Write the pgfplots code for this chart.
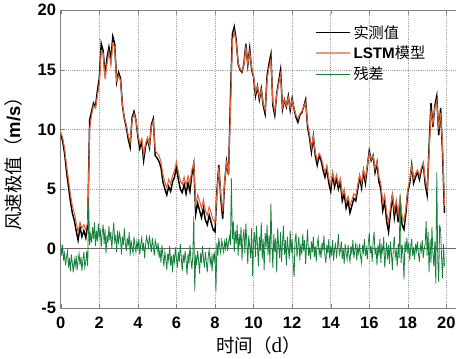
\documentclass[border=0pt]{standalone}
\usepackage{pgfplots}
\usepackage{pgfplotstable}
\pgfplotsset{compat=1.18}
\usepackage{fontspec}
\setmainfont{Liberation Serif}
\setsansfont{Liberation Sans}
\newfontfamily\cjk{Noto Sans CJK SC}
\definecolor{lstm}{RGB}{228,100,55}
\definecolor{lstmleg}{RGB}{240,150,120}
\definecolor{res}{RGB}{20,130,60}

\pgfplotstableread{
x A L
0.0 9.6 9.8
0.1 9.0 9.3
0.2 8.0 8.4
0.3 6.5 7.0
0.4 5.2 5.8
0.5 4.0 4.6
0.6 3.0 3.6
0.7 2.4 3.0
0.8 1.5 2.2
0.9 0.7 1.4
1.0 1.8 2.2
1.1 1.0 1.7
1.2 1.5 2.0
1.3 0.9 1.6
1.4 2.0 2.2
1.5 10.8 10.0
1.6 11.5 11.2
1.7 12.2 12.0
1.8 11.9 11.8
1.9 13.2 12.8
2.0 14.3 13.8
2.1 17.2 16.6
2.2 16.6 16.4
2.3 14.5 14.2
2.4 16.0 15.5
2.5 16.9 16.5
2.6 15.8 15.4
2.7 17.8 17.2
2.8 17.2 16.9
2.9 14.0 14.1
3.0 14.8 14.5
3.1 14.3 14.1
3.2 12.0 12.1
3.3 10.9 11.0
3.4 10.2 10.4
3.5 9.2 9.5
3.6 8.5 8.9
3.7 11.0 10.8
3.8 11.5 11.3
3.9 10.8 10.8
4.0 9.4 9.6
4.1 8.4 8.8
4.2 9.0 9.2
4.3 7.4 7.9
4.4 8.6 8.8
4.5 9.2 9.3
4.6 8.5 8.7
4.7 10.4 10.2
4.8 10.9 10.7
4.9 7.8 8.2
5.0 7.6 8.0
5.1 7.3 7.8
5.2 6.8 7.3
5.3 5.6 6.2
5.4 5.0 5.6
5.5 4.5 5.1
5.6 5.2 5.8
5.7 4.8 5.4
5.8 5.6 6.1
5.9 6.0 6.5
6.0 6.9 7.3
6.1 5.8 6.4
6.2 5.0 5.7
6.3 4.7 5.4
6.4 5.4 6.0
6.5 4.6 5.3
6.6 5.5 6.1
6.7 4.8 5.5
6.8 6.2 6.6
6.9 7.1 7.2
7.0 2.9 3.7
7.1 3.8 4.5
7.2 3.2 4.0
7.3 2.6 3.4
7.4 3.4 4.1
7.5 2.4 3.2
7.6 2.0 2.8
7.7 2.8 3.5
7.8 2.2 3.0
7.9 1.6 2.4
8.0 1.4 2.2
8.1 4.8 4.6
8.2 7.0 6.8
8.3 4.2 4.6
8.4 2.5 3.1
8.5 5.5 5.6
8.6 7.3 7.2
8.7 6.2 6.4
8.8 12.5 11.5
8.9 18.0 17.4
9.0 18.6 18.2
9.1 17.5 17.3
9.2 15.5 15.6
9.3 15.0 15.1
9.4 14.8 14.9
9.5 15.5 15.4
9.6 17.2 16.9
9.7 15.4 15.5
9.8 16.8 16.5
9.9 15.0 15.2
10.0 14.4 14.5
10.1 12.8 13.1
10.2 13.6 13.6
10.3 12.5 12.7
10.4 13.4 13.3
10.5 12.0 12.2
10.6 11.3 11.6
10.7 14.5 14.2
10.8 15.5 15.2
10.9 16.3 15.9
11.0 12.0 12.3
11.1 11.2 11.5
11.2 13.0 12.9
11.3 14.0 13.8
11.4 15.0 14.6
11.5 11.7 11.9
11.6 12.5 12.5
11.7 11.9 12.0
11.8 12.8 12.7
11.9 11.6 11.8
12.0 12.6 12.5
12.1 11.7 11.8
12.2 11.0 11.2
12.3 10.6 10.9
12.4 11.2 11.3
12.5 11.4 11.5
12.6 11.9 11.9
12.7 12.5 12.3
12.8 10.2 10.5
12.9 9.3 9.6
13.0 8.1 8.5
13.1 9.4 9.4
13.2 7.8 8.1
13.3 7.0 7.4
13.4 7.8 8.0
13.5 7.4 7.7
13.6 6.6 7.0
13.7 6.0 6.4
13.8 6.7 7.0
13.9 5.5 5.9
14.0 4.8 5.3
14.1 6.2 6.4
14.2 5.2 5.6
14.3 5.9 6.2
14.4 5.0 5.4
14.5 5.6 5.9
14.6 4.0 4.5
14.7 4.6 5.0
14.8 3.4 3.9
14.9 4.0 4.4
15.0 3.0 3.6
15.1 3.6 4.1
15.2 4.2 4.6
15.3 4.0 4.4
15.4 5.0 5.3
15.5 6.0 6.2
15.6 5.1 5.5
15.7 6.5 6.6
15.8 5.5 5.9
15.9 6.9 7.0
16.0 8.2 8.0
16.1 7.4 7.5
16.2 7.8 7.8
16.3 6.4 6.7
16.4 7.2 7.3
16.5 5.6 6.0
16.6 5.0 5.5
16.7 3.2 3.8
16.8 4.0 4.5
16.9 2.3 3.0
17.0 1.4 2.2
17.1 3.0 3.5
17.2 4.5 4.6
17.3 2.6 3.2
17.4 3.7 4.1
17.5 2.2 2.9
17.6 4.0 4.3
17.7 2.0 2.7
17.8 1.6 2.3
17.9 3.0 3.4
18.0 4.8 5.0
18.1 5.5 5.8
18.2 7.0 6.9
18.3 5.5 5.9
18.4 6.0 6.3
18.5 6.4 6.6
18.6 5.8 6.1
18.7 6.6 6.8
18.8 7.1 7.2
18.9 5.4 5.8
19.0 4.5 5.0
19.1 8.5 8.0
19.2 12.2 11.5
19.3 10.2 10.5
19.4 12.0 11.8
19.5 12.8 12.4
19.6 9.5 10.0
19.7 11.8 11.4
19.8 8.0 8.6
19.9 3.0 3.6
}\mainTable

\pgfplotstableread[row sep=\\]{
r\\
0.5\\ -0.6\\ 0.3\\ -1.0\\ -0.4\\ -1.4\\ -0.7\\ -0.2\\ -1.6\\ -0.8\\
-1.9\\ -0.5\\ -1.2\\ -2.0\\ -0.9\\ -1.5\\ -0.6\\ -1.8\\ -1.0\\ -0.4\\
-1.4\\ -0.7\\ -1.9\\ -0.9\\ -0.3\\ -1.6\\ -1.1\\ -0.2\\ -1.5\\ 3.8\\
0.3\\ 1.2\\ 0.5\\ 1.8\\ 0.8\\ 2.2\\ 0.2\\ 1.5\\ 0.6\\ 2.1\\
0.9\\ 1.7\\ 0.1\\ 1.3\\ 2.0\\ 0.4\\ 1.6\\ -0.4\\ 1.1\\ 0.5\\
1.9\\ 0.7\\ 1.4\\ 0.0\\ 1.2\\ 2.2\\ 0.6\\ 1.0\\ -0.3\\ 1.5\\
0.4\\ 1.3\\ 0.8\\ -0.5\\ 1.0\\ 0.3\\ 1.7\\ 0.5\\ -0.2\\ 0.9\\
0.2\\ 1.4\\ -0.6\\ 0.7\\ 0.1\\ -0.4\\ 1.0\\ 0.3\\ -0.3\\ 0.6\\
0.0\\ 0.8\\ -0.5\\ 0.4\\ 0.9\\ -0.2\\ 0.5\\ -0.8\\ 0.3\\ 1.0\\
0.6\\ 0.1\\ 1.1\\ 0.4\\ -0.3\\ 0.9\\ 0.2\\ -0.6\\ 0.7\\ 0.3\\
-0.2\\ 0.5\\ -0.8\\ -0.1\\ -1.2\\ 0.3\\ -0.6\\ -1.5\\ -0.3\\ -0.9\\
-1.8\\ -0.4\\ -1.0\\ 0.2\\ -1.4\\ -0.6\\ -2.0\\ -0.5\\ -1.1\\ 0.1\\
-0.8\\ -1.6\\ -0.3\\ -1.1\\ 0.4\\ -0.7\\ -1.9\\ -0.5\\ -1.2\\ -0.2\\
-1.0\\ -2.2\\ -0.4\\ -1.3\\ 0.3\\ -0.9\\ -1.7\\ -0.6\\ 2.7\\ -3.6\\
-0.5\\ -1.4\\ -0.2\\ -1.0\\ -2.1\\ -0.4\\ -1.2\\ 0.2\\ -0.8\\ -1.6\\
-0.3\\ -1.1\\ -2.0\\ -0.6\\ -0.1\\ -1.3\\ -0.7\\ -1.9\\ -0.4\\ -1.0\\
-0.2\\ -3.6\\ 0.5\\ -0.6\\ 0.9\\ 0.1\\ -0.4\\ 0.7\\ 0.2\\ -0.3\\
0.6\\ 0.0\\ 0.9\\ -0.2\\ 0.5\\ 1.0\\ 0.3\\ 5.9\\ 0.8\\ 2.3\\
-0.3\\ 1.5\\ 0.4\\ 2.0\\ -0.6\\ 1.2\\ 0.2\\ 1.8\\ -1.0\\ 0.9\\
1.6\\ -0.4\\ 2.1\\ 0.5\\ -1.3\\ 1.1\\ 0.2\\ -0.8\\ 1.7\\ -2.3\\
0.6\\ 1.4\\ -0.7\\ 1.9\\ 0.3\\ -1.5\\ 1.0\\ -0.2\\ 2.2\\ -0.9\\
0.8\\ -1.8\\ 1.3\\ 0.1\\ 2.0\\ -0.6\\ 1.1\\ -1.2\\ 3.8\\ 0.4\\
-1.6\\ 1.2\\ -0.3\\ 0.9\\ -2.0\\ 1.7\\ 0.2\\ -0.8\\ 1.4\\ -1.1\\
0.5\\ 1.9\\ -0.5\\ 0.7\\ -1.4\\ 1.0\\ 0.0\\ -0.9\\ 1.5\\ -0.4\\
0.8\\ -1.2\\ -2.4\\ 0.6\\ 1.3\\ -0.7\\ 0.2\\ 1.0\\ -1.0\\ 0.4\\
-0.5\\ 1.2\\ -0.2\\ 0.7\\ -1.3\\ 0.3\\ 1.6\\ -0.6\\ 0.1\\ -0.9\\
0.6\\ -0.3\\ 1.0\\ -0.7\\ 0.2\\ -1.1\\ 0.4\\ 0.9\\ -0.5\\ 0.0\\
-0.8\\ 0.5\\ -0.2\\ 1.1\\ -0.6\\ -1.2\\ 0.3\\ -0.4\\ 0.8\\ -0.9\\
0.2\\ -0.6\\ 0.7\\ -1.0\\ -0.1\\ 0.5\\ -0.8\\ 0.1\\ 1.2\\ -0.5\\
-0.2\\ 0.6\\ -0.9\\ 0.0\\ -1.3\\ 0.4\\ -0.4\\ -0.9\\ 0.3\\ -0.6\\
-1.1\\ 0.2\\ -0.5\\ 0.7\\ -0.8\\ -0.2\\ 0.5\\ -1.0\\ 0.1\\ -0.4\\
0.4\\ -0.7\\ -1.2\\ 0.3\\ -0.3\\ 0.8\\ -0.6\\ 0.0\\ -0.9\\ 0.5\\
1.3\\ -0.4\\ 0.2\\ -1.1\\ 0.6\\ 1.4\\ -0.5\\ 0.1\\ -1.4\\ 0.3\\
-0.6\\ 0.8\\ -1.2\\ 0.2\\ -0.3\\ 1.0\\ -1.6\\ -0.4\\ 0.5\\ -0.9\\
0.3\\ -1.3\\ 0.6\\ -0.5\\ -1.8\\ 0.2\\ 1.0\\ -0.7\\ -0.2\\ -1.5\\
0.4\\ -0.8\\ 4.5\\ -1.2\\ 0.3\\ -0.5\\ -2.6\\ 0.6\\ -0.3\\ 0.9\\
-0.4\\ 0.5\\ -1.0\\ 0.2\\ 0.8\\ -0.6\\ 0.1\\ -0.9\\ 0.4\\ -0.2\\
0.6\\ -0.5\\ -1.1\\ 0.3\\ -0.2\\ 0.7\\ -0.8\\ 0.0\\ 0.4\\ 2.3\\
-0.6\\ 1.4\\ -2.0\\ 0.8\\ -1.2\\ 1.8\\ -0.4\\ -1.5\\ 0.6\\ -2.95\\
6.4\\ -1.0\\ -2.8\\ 2.0\\ 1.5\\ -0.8\\ -2.5\\ 0.4\\ -1.5\\
}\resTable

\begin{document}
\begin{tikzpicture}
\begin{axis}[
  scale only axis,
  width=299.25pt, height=225.5pt,
  xmin=0, xmax=20.5, ymin=-5, ymax=20,
  axis x line=box, axis y line*=left,
  xtick={0,2,...,20}, ytick={-5,0,5,10,15,20},
  tick align=inside,
  major tick length=3pt,
  axis line style={gray, line width=0.6pt},
  tick style={gray},
  grid=major,
  major grid style={densely dotted, gray!70, line width=0.4pt},
  extra y ticks={0}, extra y tick labels={},
  extra y tick style={grid=major, major grid style={solid, gray!80!black, line width=0.6pt}},
  /pgf/number format/assume math mode=true,
  tick label style={font=\sffamily\bfseries\fontsize{12.5}{14}\selectfont},
  xticklabel style={yshift=-3pt},
  xlabel={{\cjk 时间（}{\fontsize{16}{17}\selectfont d}{\cjk ）}},
  ylabel={{\cjk 风速极值（}{\sffamily\bfseries m/s}{\cjk ）}},
  label style={font=\fontsize{14}{16}\selectfont},
  xlabel style={yshift=1pt},
  ylabel style={yshift=5pt},
  legend style={at={(axis cs:13.1,19.1)}, anchor=north west, draw=none, fill=none,
    font=\fontsize{11.5}{13}\selectfont, row sep=0.5pt, inner sep=1pt},
  legend cell align=left,
  legend image code/.code={\draw[#1] (0cm,0cm) -- (0.9cm,0cm);},
]
\addplot[black, line width=1.1pt] table[x=x, y=A] {\mainTable};
\addlegendentry{\cjk 实测值}
\addplot[lstm, line width=0.8pt, legend image code/.code={\draw[lstmleg, line width=1.6pt] (0cm,0cm) -- (0.9cm,0cm);}] table[x=x, y=L] {\mainTable};
\addlegendentry{{\sffamily\bfseries LSTM}{\cjk 模型}}
\addplot[res, line width=0.6pt] table[x expr=\coordindex*0.05, y=r] {\resTable};
\addlegendentry{\cjk 残差}
\end{axis}
\end{tikzpicture}
\end{document}
